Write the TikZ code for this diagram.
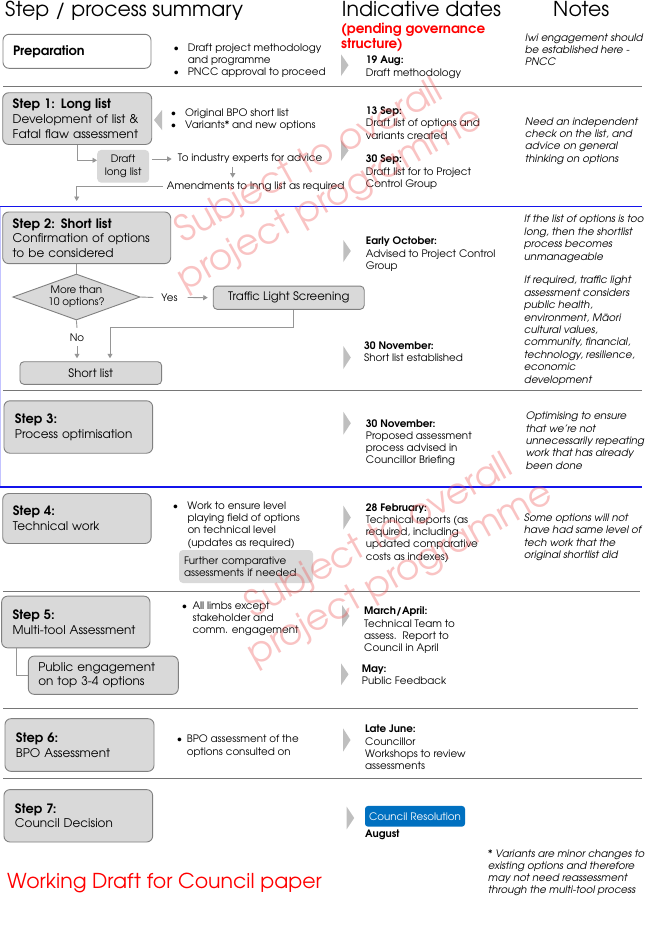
\documentclass[tikz,border=0pt]{standalone}
\usepackage{fontspec}
\IfFontExistsTF{texgyreadventor-regular.otf}{%
  \setmainfont{texgyreadventor}[Extension=.otf,UprightFont=*-regular,BoldFont=*-bold,ItalicFont=*-italic,BoldItalicFont=*-bolditalic]}{%
  \setmainfont{Poppins}}
\usetikzlibrary{shapes.geometric,arrows.meta}
\definecolor{boxfill}{RGB}{217,217,217}
\definecolor{boxline}{RGB}{128,128,128}
\definecolor{sepline}{RGB}{118,118,118}
\definecolor{connline}{RGB}{150,150,150}
\definecolor{chev}{RGB}{191,191,191}
\definecolor{sepblue}{RGB}{20,20,235}
\definecolor{lavender}{RGB}{195,195,255}
\definecolor{resblue}{RGB}{0,112,192}
\definecolor{wmark}{RGB}{238,80,80}
\definecolor{redtxt}{RGB}{255,0,0}
\newcommand{\bodyfont}{\fontsize{10.3}{12.2}\selectfont}
\newcommand{\notefont}{\fontsize{10.3}{12.4}\selectfont\itshape}
\newcommand{\stepfont}{\fontsize{12}{14.6}\selectfont}
\newcommand{\stephead}[1]{{\fontsize{12.9}{14.6}\selectfont\bfseries #1}}
\newcommand{\bl}[1]{\makebox[#1][l]{•}}
\newcommand{\chevR}[3]{\fill[chev] (#1,#2) -- ({#1+7.5},{#2+#3/2}) -- (#1,{#2+#3}) -- cycle;}
\newcommand{\chevL}[3]{\fill[chev] ({#1+8},#2) -- (#1,{#2+#3/2}) -- ({#1+8},{#2+#3}) -- cycle;}
\tikzset{
  stepbox/.style={draw=boxline, fill=boxfill, line width=0.9pt, rounded corners=6pt, align=left, font=\stepfont},
  smallbox/.style={draw=boxline, fill=boxfill, line width=0.9pt, rounded corners=4pt, inner sep=0pt},
  softbox/.style={fill=boxfill, rounded corners=4pt},
  txt/.style={anchor=north west, inner sep=0pt, align=left, font=\bodyfont},
  note/.style={txt, font=\notefont},
  head/.style={anchor=base west, inner sep=0pt, font=\fontsize{20.5}{24}\selectfont},
  sepgray/.style={draw=sepline, line width=0.9pt},
  sepb/.style={draw=sepblue, line width=1.8pt},
  plainline/.style={draw=connline, line width=0.9pt},
  conn/.style={draw=connline, line width=0.9pt, -{Triangle[length=4.5pt,width=5pt]}},
  wm/.style={font=\fontsize{36}{43}\selectfont, text=wmark, text opacity=0.34, rotate=29, align=center, inner sep=0pt}
}
\begin{document}
\begin{tikzpicture}[x=1pt,y=-1pt]
\useasboundingbox[fill=white] (0,0) rectangle (645,926);

% headers
\node[head] (h1) at (5,16.5) {Step / process summary};
\node[head] (h2) at (341.7,16.5) {Indicative dates};
\node[head] (h3) at (553,16.5) {Notes};
\node[txt, font=\fontsize{13.5}{15}\selectfont\bfseries, text=redtxt] (pend) at (341,23) {(pending governance\\structure)};

% separators
\draw[sepgray] (3,86) -- (642,86);
\draw[sepb] (0,206.5) -- (642,206.5);
\draw[draw=lavender, line width=1.2pt] (0.7,206.5) -- (0.7,486.7);
\draw[sepgray] (3,390) -- (642,390);
\draw[sepb] (0,486.7) -- (642,486.7);
\draw[sepgray] (3,591.7) -- (640,591.7);
\draw[sepgray] (3,708) -- (638,708);
\draw[sepgray] (3,778.5) -- (642,778.5);

% chevrons
\chevR{341}{54.3}{21.7}
\chevR{341}{140}{21}
\chevR{343.3}{240}{22}
\chevR{343.3}{346}{23}
\chevR{343.3}{411.7}{23}
\chevR{343.3}{505.5}{24}
\chevR{342}{605}{22}
\chevR{341}{663.3}{22}
\chevR{343}{728.3}{23.4}
\chevR{346.7}{806.7}{22.6}
\chevL{154}{110}{20}

% Preparation
\node[stepbox, fill=white, minimum width=148pt, minimum height=34pt, text width=128pt, inner xsep=10pt] (prep) at (77,51.3) {\stephead{Preparation}};
\node[txt] (prepb) at (173.3,43.3) {\bl{14.4pt}Draft project methodology\\\hspace*{14.4pt}and programme\\\bl{14.4pt}PNCC approval to proceed};
\node[txt] (prepd) at (365.7,56) {\textbf{19 Aug:}\\Draft methodology};
\node[note] (prepn) at (525,33.3) {Iwi engagement should\\be established here -\\PNCC};

% Step 1
\node[stepbox, minimum width=149pt, minimum height=51.7pt, text width=129pt, inner xsep=10pt] (s1) at (77.2,118.6) {\stephead{Step 1: Long list}\\Development of list \&\\Fatal flaw assessment};
\node[txt] (s1b) at (170.7,108.3) {\bl{14.3pt}Original BPO short list\\\bl{14.3pt}Variants* and new options};
\node[softbox, minimum width=52pt, minimum height=32.7pt, inner sep=0pt, align=center, font=\bodyfont] (dll) at (123.2,166.3) {Draft\\long list};
\node[txt] (ind) at (177.7,154) {To industry experts for advice};
\node[txt] (amend) at (166.7,181.7) {Amendments to lnng list as required};
\coordinate (xa) at (232.7,0);
\coordinate (c2) at (76.7,201);
\draw[conn] (s1.south) |- ([yshift=6pt]dll.west);
\draw[conn, shorten <=2.5pt, shorten >=6pt] (ind.west -| dll.east) -- (ind.west);
\draw[conn, shorten <=3pt, shorten >=4pt] (ind.south -| xa) -- (amend.north -| xa);
\draw[conn, shorten <=3.5pt] (amend.west) -| (c2);
\node[txt] (s1d1) at (365.7,106.7) {\textbf{13 Sep:}\\Draft list of options and\\variants created};
\node[txt] (s1d2) at (365.7,155) {\textbf{30 Sep:}\\Draft list for to Project\\Control Group};
\node[note] (s1n) at (525,117.3) {Need an independent\\check on the list, and\\advice on general\\thinking on options};

% Step 2
\node[stepbox, minimum width=168pt, minimum height=51.6pt, text width=148pt, inner xsep=10pt] (s2) at (86.7,237.8) {\stephead{Step 2: Short list}\\Confirmation of options\\to be considered};
\node[diamond, draw=boxline, fill=boxfill, line width=0.9pt, minimum width=127.3pt, minimum height=46pt, aspect=2.76, inner sep=0pt, align=center, font=\bodyfont] (dia) at (76.4,297) {More than\\10 options?};
\node[inner sep=0pt, font=\bodyfont] (yes) at (169.5,297.5) {Yes};
\node[smallbox, minimum width=151pt, minimum height=23.3pt, font=\fontsize{11.7}{14}\selectfont] (tls) at (288.7,297.7) {Traffic Light Screening};
\node[inner sep=0pt, font=\bodyfont] (no) at (77,338) {No};
\node[smallbox, minimum width=141.7pt, minimum height=22.6pt, font=\fontsize{11.6}{14}\selectfont] (sl) at (90.8,373) {Short list};
\coordinate (c3) at (110,327.3);
\draw[plainline] (dia.north |- s2.south) -- (dia.north);
\draw[plainline] (dia.east) -- ([xshift=-8pt]yes.west);
\draw[conn, shorten >=5pt] ([xshift=10pt]yes.east) -- (tls.west);
\draw[conn, shorten >=3pt] ([xshift=4.6pt]tls.south) |- (c3) -- (sl.north -| c3);
\draw[plainline] (dia.south) -- ([yshift=6pt]no.north);
\draw[conn, shorten <=4pt, shorten >=3pt] (no.south) -- (sl.north -| no.south);
\node[txt] (s2d1) at (365.7,237) {\textbf{Early October:}\\Advised to Project Control\\Group};
\node[txt] (s2d2) at (364,341.7) {\textbf{30 November:}\\Short list established};
\node[note] (s2n1) at (524,215) {If the list of options is too\\long, then the shortlist\\process becomes\\unmanageable};
\node[note] (s2n2) at (524,276) {If required, traffic light\\assessment considers\\public health,\\environment, Māori\\cultural values,\\community, financial,\\technology, resilience,\\economic\\development};

% Step 3
\node[stepbox, minimum width=148.7pt, minimum height=52.4pt, text width=126.7pt, inner xsep=11pt] (s3) at (78.3,427) {\stephead{Step 3:}\\Process optimisation};
\node[txt] (s3d) at (365.7,419.3) {\textbf{30 November:}\\Proposed assessment\\process advised in\\Councillor Briefing};
\node[note] (s3n) at (525.7,411.7) {Optimising to ensure\\that we’re not\\unnecessarily repeating\\work that has already\\been done};

% Step 4
\node[stepbox, minimum width=148.3pt, minimum height=50pt, text width=128.3pt, inner xsep=10pt] (s4) at (76.9,518.5) {\stephead{Step 4:}\\Technical work};
\node[txt] (s4b) at (172.7,501.7) {\bl{14.6pt}Work to ensure level\\\hspace*{14.6pt}playing field of options\\\hspace*{14.6pt}on technical level\\\hspace*{14.6pt}(updates as required)};
\node[softbox, minimum width=134pt, minimum height=33pt, text width=124pt, inner xsep=5pt, align=left, font=\bodyfont] (fca) at (246,566.5) {Further comparative\\assessments if needed};
\node[txt] (s4d) at (365.7,503.3) {\textbf{28 February:}\\Technical reports (as\\required, including\\updated comparative\\costs as indexes)};
\node[note] (s4n) at (524,513.3) {Some options will not\\have had same level of\\tech work that the\\original shortlist did};

% Step 5
\node[stepbox, minimum width=148.3pt, minimum height=51.7pt, text width=126.3pt, inner xsep=11pt] (s5) at (75.8,622) {\stephead{Step 5:}\\Multi-tool Assessment};
\node[stepbox, minimum width=150pt, minimum height=38.3pt, text width=130pt, inner xsep=10pt, font=\fontsize{12}{13.4}\selectfont] (pe) at (103.3,675.2) {Public engagement\\on top 3-4 options};
\coordinate (x5) at (16,0);
\draw[plainline] (s5.south -| x5) |- (pe.west);
\node[txt] (s5b) at (181.7,601.7) {\bl{10.6pt}All limbs except\\\hspace*{10.6pt}stakeholder and\\\hspace*{10.6pt}comm. engagement};
\node[txt] (s5d1) at (364,606.7) {\textbf{March/April:}\\Technical Team to\\assess.\ \ Report to\\Council in April};
\node[txt, font=\fontsize{10.3}{11.2}\selectfont] (s5d2) at (361.7,665) {\textbf{May:}\\Public Feedback};

% Step 6
\node[stepbox, minimum width=149pt, minimum height=52.7pt, text width=127pt, inner xsep=11pt] (s6) at (79.5,745) {\stephead{Step 6:}\\BPO Assessment};
\node[txt, font=\fontsize{10.3}{13}\selectfont] (s6b) at (176.7,735) {\bl{10pt}BPO assessment of the\\\hspace*{10pt}options consulted on};
\node[txt] (s6d) at (365,725) {\textbf{Late June:}\\Councillor\\Workshops to review\\assessments};

% Step 7
\node[stepbox, minimum width=148.7pt, minimum height=52.4pt, text width=126.7pt, inner xsep=11pt] (s7) at (78.3,815.8) {\stephead{Step 7:}\\Council Decision};
\node[fill=resblue, rounded corners=3pt, text=white, minimum width=100pt, minimum height=20.7pt, inner sep=0pt, font=\bodyfont] (cres) at (415,816.3) {Council Resolution};
\node[txt] (aug) at (365,830) {\textbf{August}};
\node[note, font=\fontsize{10.3}{12}\selectfont\itshape] (foot) at (488,849.3) {* Variants are minor changes to\\existing options and therefore\\may not need reassessment\\through the multi-tool process};
\node[head, text=redtxt] (wd) at (7,888) {Working Draft for Council paper};

% watermarks
\node[wm] (wm1) at (320,181) {Subject to overall\\project programme};
\node[wm] (wm2) at (390,556) {Subject to overall\\project programme};
\end{tikzpicture}
\end{document}
